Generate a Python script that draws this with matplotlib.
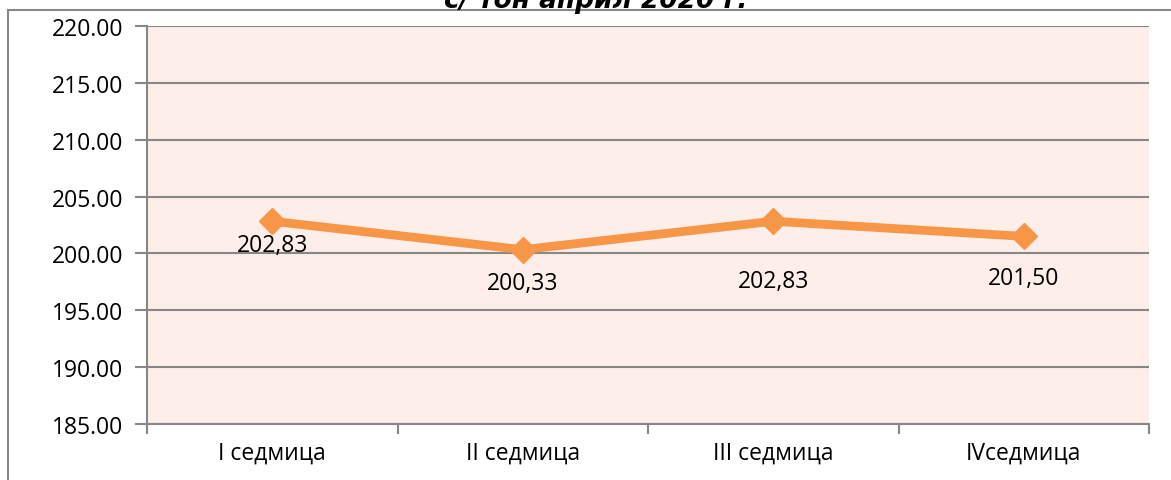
import matplotlib.pyplot as plt
from matplotlib.lines import Line2D

plt.rcParams['font.family'] = ['Open Sans', 'DejaVu Sans']

weeks = ['I седмица', 'II седмица', 'III седмица', 'IVседмица']
prices = [202.83, 200.33, 202.83, 201.50]
price_labels = ['202,83', '200,33', '202,83', '201,50']
label_offsets = [-17, -24, -43, -30]  # points below each marker, as placed in the original
yticks = [185, 190, 195, 200, 205, 210, 215, 220]

fig = plt.figure(figsize=(11.71, 4.81), dpi=100)
ax = fig.add_axes([147 / 1171, 1 - 425 / 481, 1002 / 1171, 398 / 481])

ax.set_facecolor('#FDEEE9')
x = range(len(weeks))
ax.plot(x, prices, color='#F79646', linewidth=6.3, marker='D', markersize=13,
        solid_joinstyle='round', zorder=3, clip_on=False)

for i, (v, lab) in enumerate(zip(prices, price_labels)):
    ax.annotate(lab, (i, v), xytext=(0, label_offsets[i]), textcoords='offset points',
                ha='center', va='center', fontsize=16.5)

ax.set_ylim(185, 220)
ax.set_xlim(-0.5, len(weeks) - 0.5)
ax.set_yticks(yticks)
ax.set_yticklabels(['%.2f' % t for t in yticks], fontsize=16.5)
ax.yaxis.grid(True, color='#878787', linewidth=1.5)
ax.set_axisbelow(True)

ax.set_xticks(list(x))
ax.set_xticklabels(weeks, fontsize=16.5)
ax.set_xticks([i - 0.5 for i in range(len(weeks) + 1)], minor=True)
ax.tick_params(axis='x', which='major', length=0, pad=12)
ax.tick_params(axis='x', which='minor', length=7, width=1.5, color='#878787', direction='out')
ax.tick_params(axis='y', length=9, width=1.5, color='#878787', pad=8)

for s in ['top', 'right']:
    ax.spines[s].set_visible(False)
for s in ['left', 'bottom']:
    ax.spines[s].set_color('#878787')
    ax.spines[s].set_linewidth(1.5)

# outer chart border
fig.add_artist(Line2D([7.5 / 1171, 1], [1 - 11 / 481, 1 - 11 / 481], color='#888888', linewidth=1.5))
fig.add_artist(Line2D([7.5 / 1171, 7.5 / 1171], [0, 1 - 11 / 481], color='#888888', linewidth=1.5))

# title, cut off at the top of the image as in the original
fig.text(596 / 1171, 1 - 7.5 / 481, 'с/ тон април 2020 г.', ha='center', va='baseline',
         fontsize=19, fontweight='bold', fontstyle='italic', family='DejaVu Sans')

fig.savefig('out.png', dpi=100)
